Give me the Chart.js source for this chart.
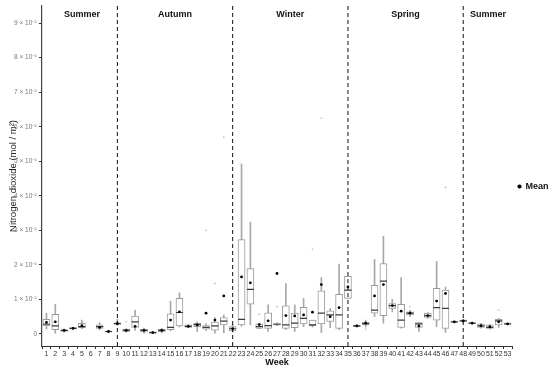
<!DOCTYPE html>
<html><head><meta charset="utf-8">
<script src="https://cdn.jsdelivr.net/npm/chart.js@4.4.1/dist/chart.umd.min.js"></script>
<style>html,body{margin:0;padding:0;background:#fff}</style>
</head><body>
<canvas id="c" width="550" height="368"></canvas>
<script>
// Values in units of 10^-5 mol/m^2
const weeks = ['1','2','3','4','5','6','7','8','9','10','11','12','13','14','15','16','17','18','19','20','21','22','23','24','25','26','27','28','29','30','31','32','33','34','35','36','37','38','39','40','41','42','43','44','45','46','47','48','49','50','51','52','53'];
const whiskerLow = [0.14,0.02,0.05,0.14,0.15,null,0.12,0.04,0.25,0.05,0.10,0.02,0.01,0.03,0.09,0.20,0.18,0.07,0.10,0.02,0.03,0.05,0.22,0.26,0.15,0.07,0.24,0.12,0.07,0.21,0.20,0.04,0.18,0.12,1.03,0.20,0.20,0.50,0.31,0.64,0.17,0.50,0.07,0.45,0.21,0.04,0.32,0.33,0.29,0.17,0.14,0.19,0.27];
const q1 = [0.23,0.12,0.07,0.15,0.18,null,0.16,0.05,0.28,0.07,0.19,0.05,0.02,0.06,0.12,0.23,0.19,0.21,0.14,0.11,0.26,0.09,0.26,0.86,0.16,0.16,0.25,0.16,0.18,0.29,0.24,0.29,0.36,0.16,1.03,0.21,0.26,0.60,0.53,0.74,0.19,0.55,0.19,0.48,0.40,0.16,0.33,0.36,0.30,0.19,0.16,0.26,0.28];
const medians = [0.28,0.23,0.10,0.16,0.21,null,0.21,0.07,0.30,0.10,0.35,0.10,0.04,0.10,0.19,0.62,0.22,0.27,0.19,0.23,0.37,0.15,0.42,1.29,0.21,0.24,0.28,0.26,0.31,0.45,0.26,0.60,0.55,0.55,1.27,0.23,0.30,0.69,1.53,0.82,0.40,0.60,0.29,0.53,0.76,0.74,0.35,0.38,0.31,0.23,0.19,0.38,0.29];
const q3 = [0.42,0.57,0.12,0.18,0.31,null,0.26,0.08,0.32,0.14,0.52,0.14,0.06,0.14,0.58,1.03,0.26,0.31,0.24,0.34,0.47,0.21,2.73,1.89,0.29,0.61,0.30,0.81,0.60,0.77,0.40,1.25,0.67,1.15,1.67,0.25,0.34,1.41,2.04,0.88,0.86,0.64,0.33,0.60,1.32,1.27,0.36,0.40,0.32,0.29,0.26,0.42,0.30];
const whiskerHigh = [0.60,0.86,0.14,0.19,0.40,null,0.33,0.09,0.42,0.15,0.69,0.17,0.07,0.16,0.95,1.19,0.27,0.35,0.30,0.47,0.55,0.28,4.92,3.24,0.30,0.84,0.32,1.46,0.84,1.03,0.40,1.63,0.74,2.02,1.67,0.26,0.40,2.16,2.83,1.00,1.63,0.68,0.33,0.62,2.10,1.36,0.37,0.42,0.33,0.31,0.27,0.45,0.31];
const means = [0.33,0.35,0.10,0.16,0.24,null,0.19,0.07,0.30,0.10,0.22,0.10,0.04,0.10,0.40,0.64,0.22,0.26,0.60,0.40,1.10,0.15,1.65,1.48,0.27,0.38,1.75,0.53,0.52,0.55,0.63,1.43,0.50,0.76,1.36,0.23,0.31,1.10,1.43,0.82,0.66,0.60,0.23,0.53,0.95,1.17,0.35,0.38,0.31,0.24,0.21,0.35,0.29];
const outlierWeeks = ['10','19','20','21','25','27','31','32','37','42','46','52'];
const outlierValues = [0.35,3.00,1.46,5.70,0.57,0.79,2.45,6.25,0.14,0.79,4.24,0.69];
const seasonNames = ['Summer','Autumn','Winter','Spring','Summer'];
const seasonCenterWeeks = [5, 15.5, 28.5, 41.5, 50.8];
const seasonBreakWeeks = ['9','22','35','48'];
const yTickValues = [0,1,2,3,4,5,6,7,8,9];
const Y_MIN = -0.35, Y_MAX = 9.5;

Chart.defaults.font.family = '"Liberation Sans", Arial, sans-serif';

const sup = {'-':'⁻','0':'⁰','1':'¹','2':'²','3':'³','4':'⁴','5':'⁵','6':'⁶','7':'⁷','8':'⁸','9':'⁹'};

const datasets = [
  { type:'bar', label:'whisker', data: weeks.map((w,i)=> whiskerLow[i]==null?null:[whiskerLow[i], whiskerHigh[i]]),
    backgroundColor:'#a8a8a8', borderWidth:0, barThickness:1, grouped:false, order:6 },
  { type:'bar', label:'box', data: weeks.map((w,i)=> q1[i]==null?null:[q1[i], q3[i]]),
    backgroundColor:'#ffffff', borderColor:'#9a9a9a', borderWidth:1, borderSkipped:false, barThickness:7, grouped:false, order:5 },
  { type:'line', label:'outliers', data: outlierWeeks.map((w,i)=>({x:w, y:outlierValues[i]})),
    showLine:false, pointRadius:0.9, pointBackgroundColor:'#c4c4c4', pointBorderWidth:0, order:4 },
  { type:'line', label:'median', data: medians, showLine:false, pointStyle:'line', pointRadius:3.5,
    pointBorderColor:'#3a3a3a', pointBorderWidth:1.2, order:3 },
  ...seasonBreakWeeks.map(w=>({ type:'line', label:'break'+w, data:[{x:w,y:Y_MIN},{x:w,y:Y_MAX}],
    borderColor:'#111', borderWidth:1, borderDash:[4,3], pointRadius:0, order:2 })),
  { type:'line', label:'Mean', data: means, showLine:false, pointStyle:'circle', pointRadius:1.4,
    pointBackgroundColor:'#000', pointBorderWidth:0, backgroundColor:'#000', borderColor:'#000', order:1 }
];

const seasonPlugin = {
  id:'seasons',
  afterDatasetsDraw(chart){
    const {ctx, chartArea, scales:{x}} = chart;
    ctx.save();
    ctx.font = 'bold 9px "Liberation Sans", Arial, sans-serif';
    ctx.fillStyle = '#111';
    ctx.textAlign = 'center';
    ctx.textBaseline = 'middle';
    seasonNames.forEach((n,i)=>{
      ctx.fillText(n, x.getPixelForValue(seasonCenterWeeks[i]-1), chartArea.top + 9);
    });
    ctx.restore();
  }
};

new Chart(document.getElementById('c'), {
  type:'bar',
  data:{ labels: weeks, datasets },
  options:{
    responsive:false, animation:false, devicePixelRatio:1, events:[],
    layout:{ padding:{ top:5, right:0, left:0, bottom:0 } },
    plugins:{
      tooltip:{enabled:false},
      legend:{ position:'right', maxWidth:38, labels:{ filter:(item)=>item.text==='Mean', usePointStyle:true, boxWidth:3, boxHeight:3,
        font:{size:9, weight:'bold'}, color:'#111', padding:6 } }
    },
    scales:{
      x:{ type:'category', offset:true,
        grid:{ display:true, drawOnChartArea:false, drawTicks:true, tickLength:3, color:'#333' },
        border:{ display:true, color:'#333', width:1 },
        ticks:{ autoSkip:false, maxRotation:0, minRotation:0, font:{size:7}, color:'#333', padding:1 },
        title:{ display:true, text:'Week', font:{size:9, weight:'bold'}, color:'#111', padding:0 },
        afterFit:(s)=>{ s.height = 22; }
      },
      y:{ min:Y_MIN, max:Y_MAX,
        afterBuildTicks:(s)=>{ s.ticks = yTickValues.map(v=>({value:v})); },
        grid:{ display:true, drawOnChartArea:false, drawTicks:true, tickLength:3, color:'#333' },
        border:{ display:true, color:'#444', width:1.2 },
        ticks:{ font:{size:6.5}, color:'#777', padding:2,
          callback:(v)=> v===0 ? '0' : (v + ' × 10' + '-5'.split('').map(c=>sup[c]).join('')) },
        title:{ display:true, text:'Nitrogen dioxide (mol / m²)', font:{size:9.5}, color:'#222', padding:{top:8,bottom:0} },
        afterFit:(s)=>{ s.width = 42; }
      }
    }
  },
  plugins:[seasonPlugin]
});
</script>
</body></html>
